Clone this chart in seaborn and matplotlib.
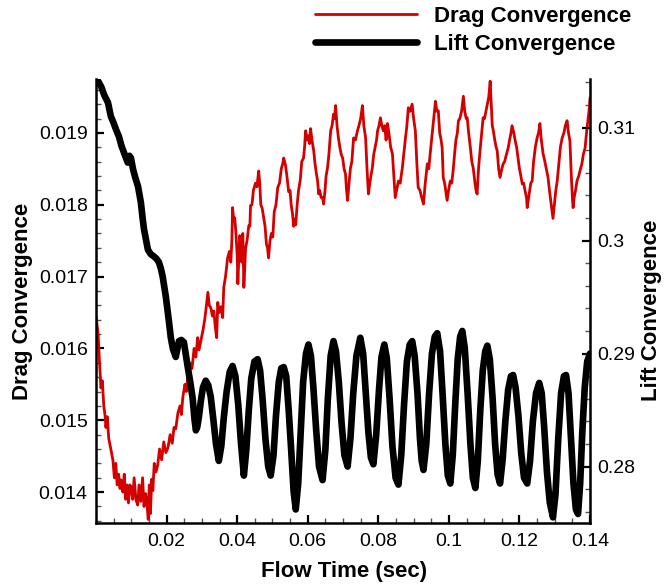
import matplotlib
matplotlib.use("Agg")
import matplotlib.pyplot as plt
from matplotlib.ticker import FixedLocator, MultipleLocator, FuncFormatter
import seaborn as sns

# ---- series ----
drag_time = [
    0.0000, 0.0006, 0.0010, 0.0014, 0.0018, 0.0022, 0.0026, 0.0028, 0.0032, 0.0036,
    0.0042, 0.0048, 0.0052, 0.0056, 0.0060, 0.0064, 0.0068, 0.0071, 0.0076, 0.0080,
    0.0084, 0.0088, 0.0092, 0.0096, 0.0099, 0.0104, 0.0108, 0.0113, 0.0118, 0.0122,
    0.0127, 0.0132, 0.0136, 0.0141, 0.0145, 0.0148, 0.0151, 0.0154, 0.0158, 0.0161,
    0.0165, 0.0170, 0.0175, 0.0180, 0.0186, 0.0192, 0.0198, 0.0204, 0.0210, 0.0216,
    0.0221, 0.0226, 0.0232, 0.0238, 0.0242, 0.0246, 0.0252, 0.0256, 0.0260, 0.0266,
    0.0272, 0.0278, 0.0283, 0.0288, 0.0292, 0.0297, 0.0303, 0.0308, 0.0313, 0.0317,
    0.0321, 0.0325, 0.0330, 0.0334, 0.0338, 0.0342, 0.0345, 0.0349, 0.0354, 0.0359,
    0.0362, 0.0367, 0.0373, 0.0378, 0.0382, 0.0385, 0.0387, 0.0390, 0.0393, 0.0396,
    0.0400, 0.0402, 0.0405, 0.0407, 0.0410, 0.0413, 0.0416, 0.0419, 0.0422, 0.0424,
    0.0428, 0.0433, 0.0436, 0.0438, 0.0442, 0.0446, 0.0452, 0.0456, 0.0461, 0.0464,
    0.0467, 0.0471, 0.0475, 0.0479, 0.0483, 0.0486, 0.0489, 0.0493, 0.0497, 0.0501,
    0.0505, 0.0510, 0.0515, 0.0520, 0.0525, 0.0529, 0.0532, 0.0537, 0.0541, 0.0546,
    0.0550, 0.0553, 0.0557, 0.0560, 0.0563, 0.0566, 0.0570, 0.0574, 0.0579, 0.0583,
    0.0588, 0.0591, 0.0594, 0.0598, 0.0602, 0.0605, 0.0608, 0.0612, 0.0617, 0.0620,
    0.0624, 0.0628, 0.0631, 0.0634, 0.0638, 0.0642, 0.0645, 0.0649, 0.0652, 0.0656,
    0.0660, 0.0665, 0.0669, 0.0673, 0.0676, 0.0679, 0.0683, 0.0687, 0.0691, 0.0695,
    0.0699, 0.0703, 0.0707, 0.0710, 0.0713, 0.0717, 0.0721, 0.0725, 0.0730, 0.0735,
    0.0741, 0.0745, 0.0750, 0.0755, 0.0759, 0.0764, 0.0768, 0.0772, 0.0776, 0.0779,
    0.0783, 0.0787, 0.0791, 0.0795, 0.0798, 0.0802, 0.0806, 0.0810, 0.0814, 0.0818,
    0.0822, 0.0826, 0.0830, 0.0835, 0.0840, 0.0844, 0.0848, 0.0852, 0.0857, 0.0862,
    0.0868, 0.0872, 0.0877, 0.0881, 0.0885, 0.0890, 0.0896, 0.0900, 0.0905, 0.0909,
    0.0913, 0.0918, 0.0923, 0.0928, 0.0933, 0.0939, 0.0943, 0.0947, 0.0951, 0.0955,
    0.0959, 0.0962, 0.0966, 0.0970, 0.0974, 0.0978, 0.0981, 0.0984, 0.0988, 0.0991,
    0.0995, 0.0999, 0.1004, 0.1008, 0.1012, 0.1016, 0.1020, 0.1024, 0.1027, 0.1031,
    0.1036, 0.1041, 0.1045, 0.1049, 0.1052, 0.1056, 0.1061, 0.1065, 0.1069, 0.1074,
    0.1077, 0.1080, 0.1084, 0.1089, 0.1093, 0.1097, 0.1101, 0.1105, 0.1109, 0.1113,
    0.1117, 0.1120, 0.1123, 0.1126, 0.1130, 0.1134, 0.1137, 0.1141, 0.1145, 0.1150,
    0.1154, 0.1158, 0.1163, 0.1168, 0.1172, 0.1176, 0.1179, 0.1184, 0.1188, 0.1192,
    0.1196, 0.1200, 0.1204, 0.1208, 0.1212, 0.1216, 0.1220, 0.1222, 0.1226, 0.1232,
    0.1236, 0.1240, 0.1245, 0.1250, 0.1254, 0.1258, 0.1262, 0.1267, 0.1272, 0.1276,
    0.1281, 0.1285, 0.1290, 0.1295, 0.1299, 0.1303, 0.1307, 0.1312, 0.1316, 0.1321,
    0.1326, 0.1330, 0.1335, 0.1339, 0.1343, 0.1347, 0.1350, 0.1352, 0.1355, 0.1359,
    0.1363, 0.1368, 0.1373, 0.1377, 0.1381, 0.1386, 0.1390, 0.1394, 0.1397, 0.1400,
]
drag_value = [
    0.01645, 0.01620, 0.01580, 0.01545, 0.01555, 0.01520, 0.01505, 0.01490, 0.01505, 0.01475,
    0.01460, 0.01444, 0.01420, 0.01440, 0.01410, 0.01425, 0.01405, 0.01417, 0.01400, 0.01425,
    0.01390, 0.01410, 0.01385, 0.01410, 0.01407, 0.01390, 0.01420, 0.01390, 0.01382, 0.01410,
    0.01387, 0.01420, 0.01380, 0.01398, 0.01380, 0.01362, 0.01410, 0.01370, 0.01418, 0.01402,
    0.01440, 0.01428, 0.01438, 0.01460, 0.01445, 0.01470, 0.01455, 0.01462, 0.01480, 0.01468,
    0.01490, 0.01488, 0.01510, 0.01520, 0.01508, 0.01532, 0.01550, 0.01540, 0.01560, 0.01580,
    0.01572, 0.01600, 0.01588, 0.01615, 0.01598, 0.01610, 0.01625, 0.01640, 0.01660, 0.01678,
    0.01660, 0.01657, 0.01645, 0.01652, 0.01630, 0.01615, 0.01664, 0.01650, 0.01658, 0.01643,
    0.01685, 0.01700, 0.01726, 0.01735, 0.01720, 0.01750, 0.01796, 0.01780, 0.01782, 0.01764,
    0.01730, 0.01690, 0.01730, 0.01757, 0.01750, 0.01720, 0.01760, 0.01685, 0.01720, 0.01740,
    0.01750, 0.01771, 0.01770, 0.01799, 0.01800, 0.01820, 0.01830, 0.01825, 0.01847, 0.01830,
    0.01800, 0.01795, 0.01782, 0.01770, 0.01745, 0.01740, 0.01726, 0.01750, 0.01760, 0.01755,
    0.01790, 0.01800, 0.01824, 0.01830, 0.01850, 0.01857, 0.01865, 0.01855, 0.01840, 0.01818,
    0.01820, 0.01800, 0.01787, 0.01770, 0.01780, 0.01772, 0.01800, 0.01820, 0.01835, 0.01860,
    0.01865, 0.01880, 0.01903, 0.01890, 0.01896, 0.01885, 0.01906, 0.01890, 0.01875, 0.01860,
    0.01845, 0.01833, 0.01815, 0.01820, 0.01810, 0.01810, 0.01801, 0.01820, 0.01840, 0.01851,
    0.01870, 0.01903, 0.01910, 0.01926, 0.01920, 0.01938, 0.01910, 0.01893, 0.01880, 0.01870,
    0.01865, 0.01850, 0.01843, 0.01820, 0.01806, 0.01830, 0.01851, 0.01860, 0.01893, 0.01890,
    0.01903, 0.01910, 0.01920, 0.01938, 0.01910, 0.01893, 0.01850, 0.01815, 0.01830, 0.01840,
    0.01851, 0.01870, 0.01880, 0.01890, 0.01903, 0.01910, 0.01921, 0.01910, 0.01903, 0.01910,
    0.01890, 0.01913, 0.01900, 0.01880, 0.01871, 0.01840, 0.01810, 0.01820, 0.01833, 0.01830,
    0.01851, 0.01870, 0.01893, 0.01910, 0.01935, 0.01930, 0.01940, 0.01920, 0.01903, 0.01860,
    0.01824, 0.01820, 0.01810, 0.01801, 0.01830, 0.01857, 0.01850, 0.01871, 0.01890, 0.01910,
    0.01930, 0.01944, 0.01930, 0.01931, 0.01900, 0.01890, 0.01879, 0.01838, 0.01830, 0.01820,
    0.01806, 0.01820, 0.01833, 0.01830, 0.01847, 0.01870, 0.01890, 0.01900, 0.01917, 0.01920,
    0.01930, 0.01951, 0.01930, 0.01920, 0.01921, 0.01900, 0.01879, 0.01860, 0.01851, 0.01830,
    0.01820, 0.01815, 0.01850, 0.01879, 0.01900, 0.01921, 0.01920, 0.01930, 0.01940, 0.01950,
    0.01972, 0.01940, 0.01910, 0.01903, 0.01890, 0.01880, 0.01875, 0.01850, 0.01838, 0.01850,
    0.01857, 0.01860, 0.01870, 0.01879, 0.01890, 0.01900, 0.01910, 0.01900, 0.01889, 0.01880,
    0.01865, 0.01850, 0.01840, 0.01829, 0.01830, 0.01819, 0.01810, 0.01796, 0.01810, 0.01830,
    0.01833, 0.01860, 0.01880, 0.01893, 0.01900, 0.01913, 0.01890, 0.01871, 0.01860, 0.01850,
    0.01838, 0.01820, 0.01800, 0.01781, 0.01800, 0.01820, 0.01833, 0.01860, 0.01880, 0.01893,
    0.01900, 0.01910, 0.01917, 0.01900, 0.01889, 0.01840, 0.01810, 0.01796, 0.01810, 0.01820,
    0.01833, 0.01840, 0.01850, 0.01857, 0.01870, 0.01879, 0.01900, 0.01917, 0.01930, 0.01949,
]

lift_time = [
    0.0000, 0.0008, 0.0015, 0.0023, 0.0034, 0.0042, 0.0050, 0.0057, 0.0065, 0.0072,
    0.0079, 0.0090, 0.0095, 0.0099, 0.0105, 0.0112, 0.0119, 0.0127, 0.0132, 0.0136,
    0.0142, 0.0147, 0.0155, 0.0164, 0.0171, 0.0178, 0.0184, 0.0189, 0.0198, 0.0206,
    0.0212, 0.0218, 0.0226, 0.0231, 0.0235, 0.0242, 0.0249, 0.0255, 0.0260, 0.0267,
    0.0274, 0.0279, 0.0283, 0.0287, 0.0292, 0.0297, 0.0303, 0.0311, 0.0318, 0.0325,
    0.0332, 0.0340, 0.0348, 0.0355, 0.0362, 0.0370, 0.0379, 0.0387, 0.0395, 0.0403,
    0.0411, 0.0419, 0.0426, 0.0433, 0.0440, 0.0449, 0.0458, 0.0465, 0.0472, 0.0480,
    0.0488, 0.0495, 0.0503, 0.0510, 0.0518, 0.0525, 0.0532, 0.0539, 0.0546, 0.0553,
    0.0560, 0.0566, 0.0573, 0.0580, 0.0587, 0.0595, 0.0602, 0.0609, 0.0616, 0.0624,
    0.0632, 0.0642, 0.0650, 0.0657, 0.0665, 0.0673, 0.0680, 0.0688, 0.0696, 0.0704,
    0.0713, 0.0721, 0.0729, 0.0738, 0.0749, 0.0757, 0.0764, 0.0772, 0.0779, 0.0786,
    0.0794, 0.0802, 0.0809, 0.0817, 0.0824, 0.0832, 0.0840, 0.0849, 0.0857, 0.0865,
    0.0873, 0.0881, 0.0889, 0.0896, 0.0903, 0.0911, 0.0918, 0.0923, 0.0928, 0.0936,
    0.0944, 0.0952, 0.0960, 0.0967, 0.0975, 0.0982, 0.0990, 0.0997, 0.1004, 0.1011,
    0.1018, 0.1025, 0.1032, 0.1038, 0.1045, 0.1053, 0.1061, 0.1068, 0.1075, 0.1082,
    0.1089, 0.1096, 0.1103, 0.1109, 0.1116, 0.1124, 0.1131, 0.1138, 0.1145, 0.1152,
    0.1160, 0.1168, 0.1176, 0.1182, 0.1189, 0.1197, 0.1205, 0.1213, 0.1222, 0.1230,
    0.1238, 0.1247, 0.1256, 0.1263, 0.1270, 0.1278, 0.1286, 0.1295, 0.1302, 0.1310,
    0.1318, 0.1326, 0.1332, 0.1339, 0.1346, 0.1353, 0.1360, 0.1366, 0.1372, 0.1378,
    0.1385, 0.1392, 0.1400,
]
lift_value = [
    0.3144, 0.3140, 0.3136, 0.3129, 0.3122, 0.3110, 0.3104, 0.3098, 0.3092, 0.3084,
    0.3078, 0.3069, 0.3075, 0.3073, 0.3063, 0.3055, 0.3048, 0.3034, 0.3020, 0.3010,
    0.3000, 0.2992, 0.2988, 0.2986, 0.2984, 0.2981, 0.2975, 0.2968, 0.2950, 0.2930,
    0.2914, 0.2904, 0.2897, 0.2905, 0.2911, 0.2912, 0.2910, 0.2898, 0.2888, 0.2875,
    0.2860, 0.2842, 0.2832, 0.2835, 0.2845, 0.2858, 0.2870, 0.2876, 0.2872, 0.2862,
    0.2843, 0.2820, 0.2805, 0.2818, 0.2843, 0.2866, 0.2884, 0.2889, 0.2880, 0.2855,
    0.2820, 0.2792, 0.2815, 0.2850, 0.2878, 0.2893, 0.2895, 0.2885, 0.2860, 0.2825,
    0.2800, 0.2792, 0.2810, 0.2845, 0.2875, 0.2887, 0.2888, 0.2880, 0.2850, 0.2815,
    0.2778, 0.2762, 0.2785, 0.2830, 0.2875, 0.2900, 0.2908, 0.2898, 0.2870, 0.2832,
    0.2800, 0.2788, 0.2815, 0.2860, 0.2898, 0.2911, 0.2902, 0.2875, 0.2838, 0.2810,
    0.2800, 0.2825, 0.2865, 0.2898, 0.2914, 0.2900, 0.2868, 0.2830, 0.2808, 0.2802,
    0.2828, 0.2868, 0.2897, 0.2908, 0.2896, 0.2860, 0.2818, 0.2790, 0.2784, 0.2810,
    0.2855, 0.2893, 0.2908, 0.2911, 0.2898, 0.2865, 0.2825, 0.2805, 0.2797, 0.2820,
    0.2865, 0.2900, 0.2915, 0.2918, 0.2902, 0.2865, 0.2820, 0.2792, 0.2785, 0.2810,
    0.2855, 0.2895, 0.2915, 0.2920, 0.2905, 0.2865, 0.2820, 0.2790, 0.2781, 0.2805,
    0.2850, 0.2885, 0.2902, 0.2907, 0.2895, 0.2860, 0.2820, 0.2793, 0.2785, 0.2805,
    0.2840, 0.2868, 0.2880, 0.2881, 0.2870, 0.2845, 0.2812, 0.2790, 0.2785, 0.2805,
    0.2840, 0.2865, 0.2874, 0.2865, 0.2835, 0.2795, 0.2768, 0.2755, 0.2775, 0.2825,
    0.2865, 0.2880, 0.2881, 0.2865, 0.2825, 0.2785, 0.2762, 0.2758, 0.2785, 0.2830,
    0.2870, 0.2893, 0.2900,
]

x_ticks = [0.02, 0.04, 0.06, 0.08, 0.10, 0.12, 0.14]
drag_ticks = [0.014, 0.015, 0.016, 0.017, 0.018, 0.019]
lift_ticks = [0.28, 0.29, 0.30, 0.31]

x_label = "Flow Time (sec)"
drag_label = "Drag Convergence"
lift_label = "Lift Convergence"

# ---- style ----
sns.set_style("ticks")
plt.rcParams["font.family"] = ["Liberation Sans", "DejaVu Sans"]
plt.rcParams.update({
    "text.color": "black",
    "axes.labelcolor": "black",
    "axes.edgecolor": "black",
    "xtick.color": "black",
    "ytick.color": "black",
})

RED = "#d40000"
BLACK = "#000000"

fig = plt.figure(figsize=(6.64, 5.87), dpi=100)
ax = fig.add_axes([0.1446, 0.1090, 0.7440, 0.7564])
ax2 = ax.twinx()

sns.lineplot(x=drag_time, y=drag_value, ax=ax, color=RED, linewidth=2.0,
             estimator=None, sort=False, label=drag_label, legend=False)
sns.lineplot(x=lift_time, y=lift_value, ax=ax2, color=BLACK, linewidth=4.8,
             estimator=None, sort=False, label=lift_label, legend=False)

ax.set_xlim(0.0, 0.14)
ax.set_ylim(0.01357, 0.01975)
ax2.set_ylim(0.2750, 0.3143)

fmt = FuncFormatter(lambda v, p: f"{v:g}")
ax.xaxis.set_major_locator(FixedLocator(x_ticks))
ax.xaxis.set_minor_locator(MultipleLocator(0.005))
ax.yaxis.set_major_locator(FixedLocator(drag_ticks))
ax.yaxis.set_minor_locator(MultipleLocator(0.0002))
ax2.yaxis.set_major_locator(FixedLocator(lift_ticks))
ax2.yaxis.set_minor_locator(MultipleLocator(0.002))
for a in (ax.xaxis, ax.yaxis, ax2.yaxis):
    a.set_major_formatter(fmt)

for a in (ax, ax2):
    a.spines["top"].set_visible(False)
    for s in a.spines.values():
        s.set_linewidth(1.8)
        s.set_color(BLACK)
ax.spines["right"].set_visible(False)
ax2.spines["left"].set_visible(False)
ax2.spines["bottom"].set_visible(False)

ax.tick_params(axis="x", which="both", direction="in", top=False, bottom=True,
               labelsize=14, pad=7, labelcolor=BLACK)
ax.tick_params(axis="y", which="both", direction="in", left=True, right=False,
               labelsize=14, pad=6, labelcolor=BLACK)
ax2.tick_params(axis="y", which="both", direction="in", right=True, left=False,
                labelsize=14, pad=5, labelcolor=BLACK)
for a in (ax, ax2):
    a.tick_params(which="major", length=6, width=1.6, color=BLACK)
    a.tick_params(which="minor", length=3.5, width=1.0, color="#555555")

ax.set_xlabel(x_label, fontsize=16, fontweight="bold", color=BLACK)
ax.set_ylabel(drag_label, fontsize=16, fontweight="bold", color=BLACK)
ax2.set_ylabel(lift_label, fontsize=16, fontweight="bold", rotation=90, color=BLACK)
ax.xaxis.set_label_coords(0.502, -0.086)
ax.yaxis.set_label_coords(-0.128, 0.5)
ax2.yaxis.set_label_coords(1.103, 0.478)

handles = [ax.lines[0], ax2.lines[0]]
fig.legend(handles, [drag_label, lift_label], loc="upper left",
           bbox_to_anchor=(315 / 664, 1 - 6 / 587), frameon=False,
           prop={"size": 16, "weight": "bold"}, handlelength=4.6,
           handletextpad=0.75, labelspacing=0.3, borderpad=0, borderaxespad=0,
           labelcolor=BLACK)

fig.savefig("out.png", dpi=100)
